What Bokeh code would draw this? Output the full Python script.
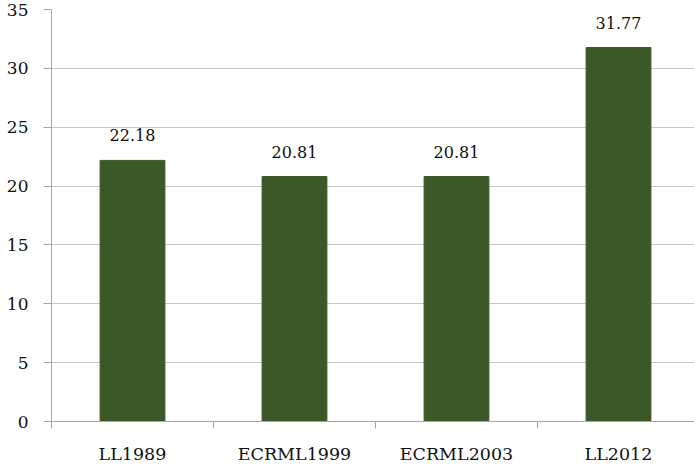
from bokeh.plotting import figure
from bokeh.models import FixedTicker, Range1d, ColumnDataSource
from bokeh.embed import file_html
from bokeh.resources import INLINE
from bokeh.core.properties import value

categories = ["LL1989", "ECRML1999", "ECRML2003", "LL2012"]
values = [22.18, 20.81, 20.81, 31.77]
y_ticks = [0, 5, 10, 15, 20, 25, 30, 35]

FONT = "DejaVu Serif"
AXIS_COLOR = "#a6a6a6"
GRID_COLOR = "#c4c4c4"
BAR_COLOR = "#3b5826"

xs = [i + 0.5 for i in range(len(categories))]
boundaries = list(range(len(categories) + 1))
src = ColumnDataSource(dict(x=xs, top=values, label=[f"{v:.2f}" for v in values]))

p = figure(width=694, height=468, output_backend="svg", toolbar_location=None,
           x_range=Range1d(0, 643 / 162), y_range=Range1d(0, 35),
           min_border_left=51, min_border_right=0, min_border_top=9, min_border_bottom=47)
p.outline_line_color = None
p.background_fill_color = "white"
p.border_fill_color = "white"

p.vbar(x="x", top="top", bottom=0, width=0.4, source=src,
       fill_color=BAR_COLOR, line_color=BAR_COLOR)
p.text(x="x", y="top", text="label", source=src, text_align="center",
       text_baseline="bottom", y_offset=-19, text_font=value(FONT),
       text_font_size="16px", text_color="#111111")

p.xgrid.visible = False
p.ygrid.ticker = FixedTicker(ticks=y_ticks)
p.ygrid.grid_line_color = GRID_COLOR

ya = p.yaxis[0]
ya.ticker = FixedTicker(ticks=y_ticks)
ya.axis_line_color = AXIS_COLOR
ya.major_tick_line_color = AXIS_COLOR
ya.major_tick_in = 0
ya.major_tick_out = 8
ya.minor_tick_line_color = None
ya.major_label_text_font = FONT
ya.major_label_text_font_size = "17px"
ya.major_label_text_color = "#111111"
ya.major_label_standoff = 15

xa = p.xaxis[0]
xa.ticker = FixedTicker(ticks=xs, minor_ticks=boundaries)
xa.axis_line_color = AXIS_COLOR
xa.major_tick_line_color = None
xa.major_tick_in = 0
xa.major_tick_out = 0
xa.minor_tick_line_color = AXIS_COLOR
xa.minor_tick_in = 0
xa.minor_tick_out = 7
xa.major_label_overrides = {x: c for x, c in zip(xs, categories)}
xa.major_label_text_font = FONT
xa.major_label_text_font_size = "17.5px"
xa.major_label_text_color = "#111111"
xa.major_label_standoff = 15

open("out.html", "w").write(file_html(p, INLINE))
